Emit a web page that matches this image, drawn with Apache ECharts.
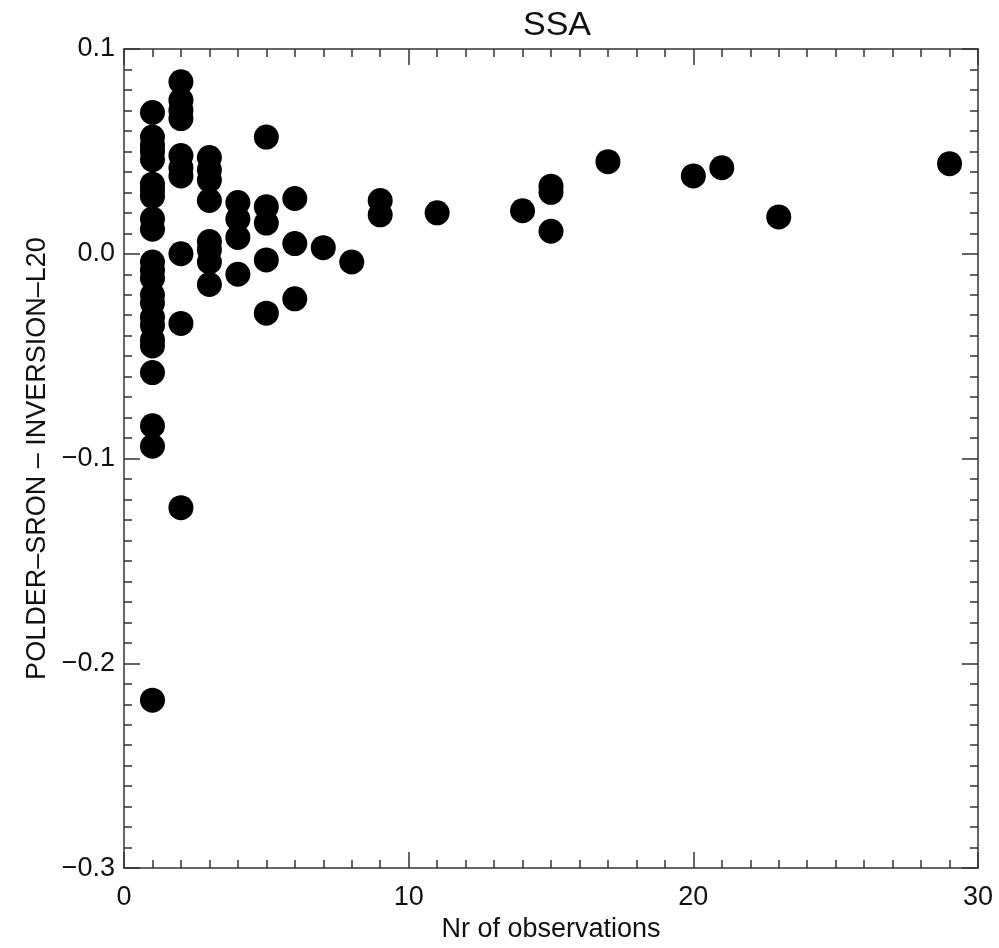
<!DOCTYPE html>
<html>
<head>
<meta charset="utf-8">
<title>SSA</title>
<script src="https://cdn.jsdelivr.net/npm/echarts@6/dist/echarts.min.js"></script>
<style>
  html, body { margin: 0; padding: 0; background: #fff; }
  #chart { width: 999px; height: 948px; }
</style>
</head>
<body>
<div id="chart"></div>
<script>
// Number of observations for each retrieval
const nObs = [
  1, 1, 1, 1, 1, 1, 1, 1, 1, 1, 1, 1, 1, 1, 1, 1, 1, 1, 1, 1, 1, 1, 1,
  2, 2, 2, 2, 2, 2, 2, 2, 2, 2,
  3, 3, 3, 3, 3, 3, 3, 3,
  4, 4, 4, 4,
  5, 5, 5, 5, 5,
  6, 6, 6,
  7, 8, 9, 9, 11, 14, 15, 15, 15, 17, 20, 21, 23, 29
];

// SSA difference POLDER-SRON minus INVERSION-L20, paired with nObs
const ssaDiff = [
  0.069, 0.057, 0.053, 0.050, 0.046, 0.034, 0.031, 0.028, 0.017, 0.012,
  -0.004, -0.008, -0.012, -0.020, -0.024, -0.031, -0.035, -0.042, -0.045,
  -0.058, -0.084, -0.094, -0.218,
  0.084, 0.075, 0.070, 0.066, 0.048, 0.042, 0.038, 0.000, -0.034, -0.124,
  0.047, 0.041, 0.036, 0.026, 0.006, 0.002, -0.004, -0.015,
  0.025, 0.017, 0.008, -0.010,
  0.057, 0.023, 0.015, -0.003, -0.029,
  0.027, 0.005, -0.022,
  0.003, -0.004, 0.026, 0.019, 0.020, 0.021, 0.033, 0.030, 0.011,
  0.045, 0.038, 0.042, 0.018, 0.044
];

const yTickLabels = { '0.1': '0.1', '0': '0.0', '-0.1': '\u22120.1', '-0.2': '\u22120.2', '-0.3': '\u22120.3' };

const points = nObs.map((n, i) => [n, ssaDiff[i]]);

const FONT = 'Liberation Sans';
const AXIS_COLOR = '#333';
const TEXT_COLOR = '#111';
const CHAR = 27;          // axis characters
const TITLE_CHAR = 34;    // title characters

function xAxisDef(pos, showLabels) {
  return {
    type: 'value', position: pos, min: 0, max: 30, interval: 10,
    axisLine: { show: true, onZero: false, lineStyle: { color: AXIS_COLOR, width: 1.5 } },
    axisTick: { show: true, inside: true, length: 16, lineStyle: { color: AXIS_COLOR, width: 1.5 } },
    minorTick: { show: true, splitNumber: 10, length: 8, lineStyle: { color: AXIS_COLOR, width: 1.5 } },
    splitLine: { show: false },
    axisLabel: { show: showLabels, color: TEXT_COLOR, fontFamily: FONT, fontSize: CHAR, margin: 16 },
    name: showLabels ? 'Nr of observations' : '',
    nameLocation: 'middle', nameGap: 42,
    nameTextStyle: { color: TEXT_COLOR, fontFamily: FONT, fontSize: CHAR }
  };
}

function yAxisDef(pos, showLabels) {
  return {
    type: 'value', position: pos, min: -0.3, max: 0.1, interval: 0.1,
    axisLine: { show: true, onZero: false, lineStyle: { color: AXIS_COLOR, width: 1.5 } },
    axisTick: { show: true, inside: true, length: 16, lineStyle: { color: AXIS_COLOR, width: 1.5 } },
    minorTick: { show: true, splitNumber: 10, length: 8, lineStyle: { color: AXIS_COLOR, width: 1.5 } },
    splitLine: { show: false },
    axisLabel: {
      show: showLabels, color: TEXT_COLOR, fontFamily: FONT, fontSize: CHAR, margin: 9,
      formatter: v => yTickLabels[String(Math.round(v * 10) / 10)] || ''
    },
    name: showLabels ? 'POLDER\u2013SRON \u2013 INVERSION\u2013L20' : '',
    nameLocation: 'middle', nameGap: 72, nameRotate: 90,
    nameTextStyle: { color: TEXT_COLOR, fontFamily: FONT, fontSize: CHAR }
  };
}

const chart = echarts.init(document.getElementById('chart'), null, { renderer: 'canvas' });
chart.setOption({
  backgroundColor: '#fff',
  animation: false,
  title: {
    text: 'SSA', left: 552, top: 4, textAlign: 'center',
    textStyle: { color: TEXT_COLOR, fontFamily: FONT, fontSize: TITLE_CHAR, fontWeight: 'normal' }
  },
  grid: { left: 124, right: 21, top: 49, bottom: 71, containLabel: false },
  xAxis: [xAxisDef('bottom', true), xAxisDef('top', false)],
  yAxis: [yAxisDef('left', true), yAxisDef('right', false)],
  series: [{
    type: 'scatter',
    xAxisIndex: 0, yAxisIndex: 0,
    data: points,
    symbol: 'circle', symbolSize: 25,
    itemStyle: { color: '#000', opacity: 1 }
  }]
});
</script>
</body>
</html>
